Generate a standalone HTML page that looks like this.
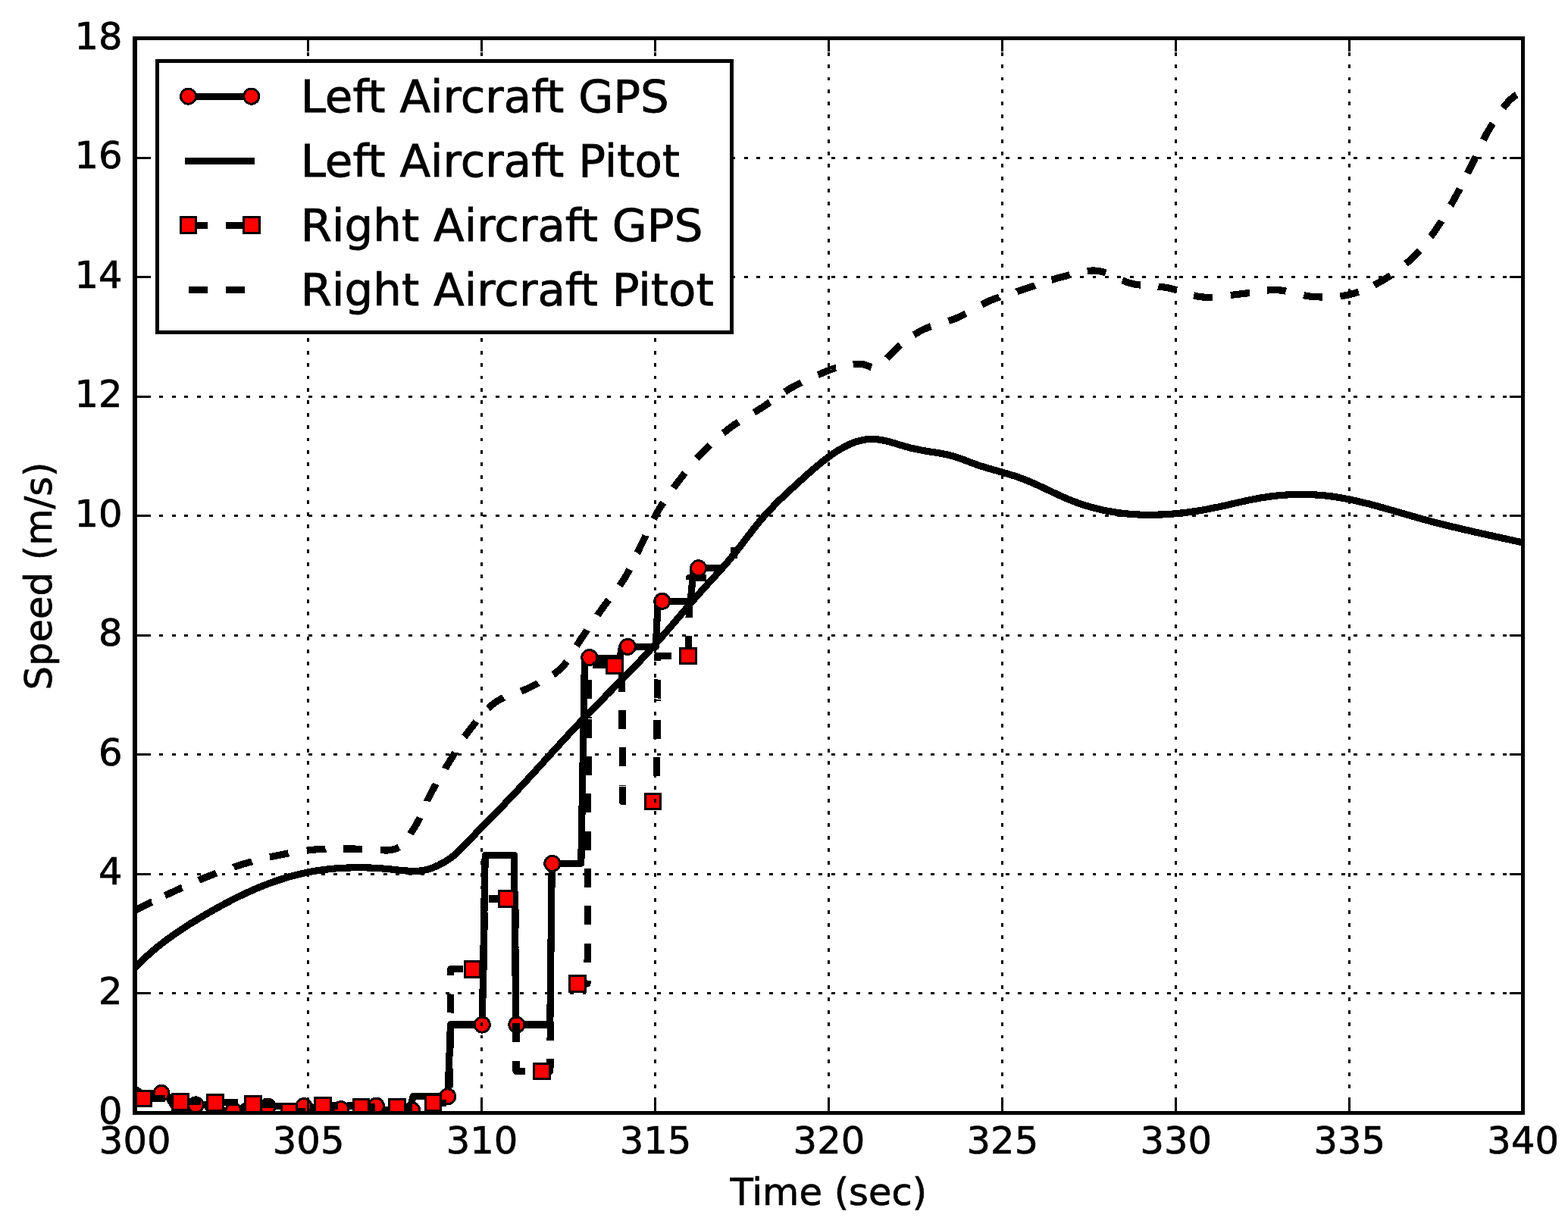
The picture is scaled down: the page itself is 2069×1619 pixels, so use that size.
<!DOCTYPE html>
<html lang="en"><head><meta charset="utf-8"><title>Aircraft speed plot</title>
<style>html,body{margin:0;padding:0;background:#fff;}body{width:2069px;height:1619px;overflow:hidden;}svg{display:block;}text{font-family:"DejaVu Sans","Liberation Sans",sans-serif;fill:#000;}</style>
</head><body>
<svg width="2069" height="1619" viewBox="0 0 2069 1619" shape-rendering="crispEdges">
<rect x="0" y="0" width="2069" height="1619" fill="#fff"/>
<defs><clipPath id="ax"><rect x="178.00" y="50.50" width="1831.50" height="1418.00"/></clipPath></defs>
<g clip-path="url(#ax)"><g fill="none" stroke="#000" stroke-width="9.2" stroke-linejoin="round" stroke-linecap="square">
<path d="M178.0 1437.0 L186.0 1442.2 L219.0 1442.2 L228.0 1457.7 L272.0 1457.7 L277.0 1465.3 L318.0 1465.3 L322.0 1459.8 L364.0 1459.8 L368.0 1459.4 L409.0 1459.4 L413.0 1463.4 L455.0 1463.4 L459.0 1459.0 L501.0 1459.0 L505.0 1464.6 L541.0 1464.6 L545.0 1446.6 L590.8 1446.6 L594.6 1351.9 L636.3 1351.9 L640.2 1128.4 L678.4 1128.4 L680.8 1351.9 L725.8 1351.9 L728.3 1139.2 L766.8 1139.2 L771.5 868.4 L818.0 868.4 L820.5 853.2 L865.3 853.2 L868.2 793.1 L911.2 793.1 L915.2 749.5 L948.0 749.5"/>
<path d="M968.5 737.0 L968.5 722.0" stroke-linecap="butt"/>
</g>
<g fill="#f00" stroke="#000" stroke-width="2.9">
<circle cx="213.0" cy="1442.4" r="10.05"/>
<circle cx="258.3" cy="1457.9" r="10.05"/>
<circle cx="307.9" cy="1465.5" r="10.05"/>
<circle cx="353.1" cy="1460.0" r="10.05"/>
<circle cx="400.9" cy="1459.6" r="10.05"/>
<circle cx="449.9" cy="1463.6" r="10.05"/>
<circle cx="496.4" cy="1459.2" r="10.05"/>
<circle cx="543.6" cy="1464.8" r="10.05"/>
<circle cx="590.7" cy="1446.8" r="10.05"/>
<circle cx="636.3" cy="1352.1" r="10.05"/>
<circle cx="681.8" cy="1352.1" r="10.05"/>
<circle cx="728.8" cy="1139.4" r="10.05"/>
<circle cx="777.8" cy="867.6" r="10.05"/>
<circle cx="828.3" cy="853.4" r="10.05"/>
<circle cx="873.8" cy="793.3" r="10.05"/>
<circle cx="921.6" cy="749.7" r="10.05"/>
</g>
<path d="M178.0 1276.7 L181.0 1273.7 L184.0 1270.7 L187.0 1267.8 L190.0 1265.0 L193.0 1262.3 L196.0 1259.6 L199.0 1256.9 L202.0 1254.3 L205.0 1251.8 L208.0 1249.4 L211.0 1247.0 L214.0 1244.6 L217.0 1242.3 L220.0 1240.0 L223.0 1237.8 L226.0 1235.7 L229.0 1233.5 L232.0 1231.5 L235.0 1229.4 L238.0 1227.4 L241.0 1225.4 L244.0 1223.4 L247.0 1221.5 L250.0 1219.6 L253.0 1217.7 L256.0 1215.9 L259.0 1214.1 L262.0 1212.2 L265.0 1210.4 L268.0 1208.7 L271.0 1206.9 L274.0 1205.1 L277.0 1203.4 L280.0 1201.7 L283.0 1200.0 L286.0 1198.3 L289.0 1196.7 L292.0 1195.0 L295.0 1193.4 L298.0 1191.8 L301.0 1190.2 L304.0 1188.6 L307.0 1187.1 L310.0 1185.6 L313.0 1184.1 L316.0 1182.6 L319.0 1181.2 L322.0 1179.7 L325.0 1178.3 L328.0 1177.0 L331.0 1175.6 L334.0 1174.3 L337.0 1173.0 L340.0 1171.7 L343.0 1170.4 L346.0 1169.2 L349.0 1168.0 L352.0 1166.9 L355.0 1165.7 L358.0 1164.6 L361.0 1163.5 L364.0 1162.5 L367.0 1161.5 L370.0 1160.5 L373.0 1159.5 L376.0 1158.6 L379.0 1157.7 L382.0 1156.8 L385.0 1156.0 L388.0 1155.2 L391.0 1154.4 L394.0 1153.7 L397.0 1153.0 L400.0 1152.3 L403.0 1151.7 L406.0 1151.1 L409.0 1150.5 L412.0 1149.9 L415.0 1149.4 L418.0 1148.9 L421.0 1148.5 L424.0 1148.0 L427.0 1147.6 L430.0 1147.2 L433.0 1146.9 L436.0 1146.6 L439.0 1146.3 L442.0 1146.0 L445.0 1145.8 L448.0 1145.6 L451.0 1145.4 L454.0 1145.2 L457.0 1145.1 L460.0 1145.0 L463.0 1144.9 L466.0 1144.8 L469.0 1144.8 L472.0 1144.7 L475.0 1144.8 L478.0 1144.8 L481.0 1144.8 L484.0 1144.9 L487.0 1145.0 L490.0 1145.1 L493.0 1145.3 L496.0 1145.4 L499.0 1145.6 L502.0 1145.8 L505.0 1146.0 L508.0 1146.3 L511.0 1146.5 L514.0 1146.8 L517.0 1147.1 L520.0 1147.4 L523.0 1147.7 L526.0 1148.1 L529.0 1148.4 L532.0 1148.7 L535.0 1148.9 L538.0 1149.1 L541.0 1149.3 L544.0 1149.4 L547.0 1149.4 L550.0 1149.3 L553.0 1149.1 L556.0 1148.8 L559.0 1148.3 L562.0 1147.7 L565.0 1147.0 L568.0 1146.0 L571.0 1144.9 L574.0 1143.7 L577.0 1142.4 L580.0 1140.9 L583.0 1139.3 L586.0 1137.7 L589.0 1135.9 L592.0 1134.0 L595.0 1131.9 L598.0 1129.5 L601.0 1127.0 L604.0 1124.3 L607.0 1121.4 L610.0 1118.4 L613.0 1115.4 L616.0 1112.2 L619.0 1109.0 L622.0 1105.8 L625.0 1102.6 L628.0 1099.5 L631.0 1096.3 L634.0 1093.3 L637.0 1090.2 L640.0 1087.1 L643.0 1084.1 L646.0 1081.0 L649.0 1078.0 L652.0 1074.9 L655.0 1071.8 L658.0 1068.8 L661.0 1065.7 L664.0 1062.6 L667.0 1059.5 L670.0 1056.4 L673.0 1053.2 L676.0 1050.0 L679.0 1046.9 L682.0 1043.7 L685.0 1040.5 L688.0 1037.2 L691.0 1034.0 L694.0 1030.7 L697.0 1027.5 L700.0 1024.2 L703.0 1020.9 L706.0 1017.7 L709.0 1014.4 L712.0 1011.1 L715.0 1007.8 L718.0 1004.5 L721.0 1001.2 L724.0 997.9 L727.0 994.6 L730.0 991.3 L733.0 988.0 L736.0 984.7 L739.0 981.5 L742.0 978.2 L745.0 974.9 L748.0 971.7 L751.0 968.4 L754.0 965.2 L757.0 962.0 L760.0 958.8 L763.0 955.6 L766.0 952.4 L769.0 949.3 L772.0 946.1 L775.0 943.0 L778.0 939.9 L781.0 936.8 L784.0 933.8 L787.0 930.7 L790.0 927.6 L793.0 924.6 L796.0 921.6 L799.0 918.5 L802.0 915.5 L805.0 912.5 L808.0 909.5 L811.0 906.4 L814.0 903.4 L817.0 900.4 L820.0 897.3 L823.0 894.3 L826.0 891.2 L829.0 888.2 L832.0 885.1 L835.0 882.0 L838.0 878.9 L841.0 875.7 L844.0 872.6 L847.0 869.4 L850.0 866.2 L853.0 863.0 L856.0 859.7 L859.0 856.4 L862.0 853.1 L865.0 849.8 L868.0 846.4 L871.0 843.0 L874.0 839.6 L877.0 836.1 L880.0 832.7 L883.0 829.2 L886.0 825.7 L889.0 822.2 L892.0 818.7 L895.0 815.1 L898.0 811.6 L901.0 808.1 L904.0 804.6 L907.0 801.1 L910.0 797.6 L913.0 794.1 L916.0 790.7 L919.0 787.2 L922.0 783.8 L925.0 780.5 L928.0 777.1 L931.0 773.8 L934.0 770.5 L937.0 767.2 L940.0 763.9 L943.0 760.7 L946.0 757.4 L949.0 754.1 L952.0 750.8 L955.0 747.4 L958.0 744.0 L961.0 740.5 L964.0 736.9 L967.0 733.3 L970.0 729.6 L973.0 725.8 L976.0 721.9 L979.0 718.0 L982.0 714.1 L985.0 710.1 L988.0 706.2 L991.0 702.3 L994.0 698.5 L997.0 694.7 L1000.0 690.9 L1003.0 687.3 L1006.0 683.8 L1009.0 680.3 L1012.0 677.0 L1015.0 673.7 L1018.0 670.6 L1021.0 667.5 L1024.0 664.4 L1027.0 661.5 L1030.0 658.5 L1033.0 655.7 L1036.0 652.8 L1039.0 650.0 L1042.0 647.2 L1045.0 644.5 L1048.0 641.7 L1051.0 639.0 L1054.0 636.2 L1057.0 633.5 L1060.0 630.8 L1063.0 628.1 L1066.0 625.4 L1069.0 622.8 L1072.0 620.2 L1075.0 617.6 L1078.0 615.0 L1081.0 612.6 L1084.0 610.1 L1087.0 607.8 L1090.0 605.4 L1093.0 603.2 L1096.0 601.0 L1099.0 598.9 L1102.0 596.9 L1105.0 595.0 L1108.0 593.1 L1111.0 591.4 L1114.0 589.7 L1117.0 588.2 L1120.0 586.8 L1123.0 585.4 L1126.0 584.2 L1129.0 583.1 L1132.0 582.2 L1135.0 581.4 L1138.0 580.7 L1141.0 580.1 L1144.0 579.7 L1147.0 579.5 L1150.0 579.4 L1153.0 579.4 L1156.0 579.6 L1159.0 580.0 L1162.0 580.4 L1165.0 580.9 L1168.0 581.6 L1171.0 582.3 L1174.0 583.1 L1177.0 583.9 L1180.0 584.8 L1183.0 585.6 L1186.0 586.6 L1189.0 587.5 L1192.0 588.4 L1195.0 589.2 L1198.0 590.1 L1201.0 590.9 L1204.0 591.6 L1207.0 592.3 L1210.0 592.9 L1213.0 593.5 L1216.0 594.1 L1219.0 594.6 L1222.0 595.1 L1225.0 595.6 L1228.0 596.1 L1231.0 596.5 L1234.0 597.0 L1237.0 597.5 L1240.0 598.0 L1243.0 598.6 L1246.0 599.2 L1249.0 599.8 L1252.0 600.5 L1255.0 601.2 L1258.0 602.1 L1261.0 603.0 L1264.0 604.0 L1267.0 605.0 L1270.0 606.1 L1273.0 607.2 L1276.0 608.3 L1279.0 609.5 L1282.0 610.6 L1285.0 611.7 L1288.0 612.8 L1291.0 613.9 L1294.0 614.9 L1297.0 615.8 L1300.0 616.8 L1303.0 617.7 L1306.0 618.5 L1309.0 619.4 L1312.0 620.2 L1315.0 621.1 L1318.0 621.9 L1321.0 622.8 L1324.0 623.6 L1327.0 624.5 L1330.0 625.4 L1333.0 626.3 L1336.0 627.2 L1339.0 628.1 L1342.0 629.1 L1345.0 630.2 L1348.0 631.3 L1351.0 632.4 L1354.0 633.6 L1357.0 634.8 L1360.0 636.1 L1363.0 637.4 L1366.0 638.7 L1369.0 640.1 L1372.0 641.5 L1375.0 642.8 L1378.0 644.3 L1381.0 645.7 L1384.0 647.1 L1387.0 648.5 L1390.0 649.9 L1393.0 651.3 L1396.0 652.7 L1399.0 654.1 L1402.0 655.5 L1405.0 656.8 L1408.0 658.1 L1411.0 659.3 L1414.0 660.5 L1417.0 661.7 L1420.0 662.8 L1423.0 663.9 L1426.0 664.9 L1429.0 665.9 L1432.0 666.9 L1435.0 667.8 L1438.0 668.7 L1441.0 669.5 L1444.0 670.3 L1447.0 671.1 L1450.0 671.8 L1453.0 672.5 L1456.0 673.2 L1459.0 673.8 L1462.0 674.4 L1465.0 674.9 L1468.0 675.4 L1471.0 675.9 L1474.0 676.4 L1477.0 676.8 L1480.0 677.1 L1483.0 677.5 L1486.0 677.8 L1489.0 678.1 L1492.0 678.3 L1495.0 678.6 L1498.0 678.8 L1501.0 678.9 L1504.0 679.1 L1507.0 679.2 L1510.0 679.2 L1513.0 679.3 L1516.0 679.3 L1519.0 679.3 L1522.0 679.3 L1525.0 679.2 L1528.0 679.1 L1531.0 679.0 L1534.0 678.9 L1537.0 678.8 L1540.0 678.6 L1543.0 678.4 L1546.0 678.2 L1549.0 677.9 L1552.0 677.6 L1555.0 677.4 L1558.0 677.0 L1561.0 676.7 L1564.0 676.4 L1567.0 676.0 L1570.0 675.6 L1573.0 675.2 L1576.0 674.7 L1579.0 674.3 L1582.0 673.8 L1585.0 673.3 L1588.0 672.8 L1591.0 672.3 L1594.0 671.7 L1597.0 671.1 L1600.0 670.5 L1603.0 669.9 L1606.0 669.3 L1609.0 668.7 L1612.0 668.0 L1615.0 667.4 L1618.0 666.7 L1621.0 666.0 L1624.0 665.3 L1627.0 664.6 L1630.0 663.9 L1633.0 663.3 L1636.0 662.6 L1639.0 661.9 L1642.0 661.2 L1645.0 660.6 L1648.0 659.9 L1651.0 659.3 L1654.0 658.7 L1657.0 658.1 L1660.0 657.6 L1663.0 657.0 L1666.0 656.5 L1669.0 656.1 L1672.0 655.6 L1675.0 655.2 L1678.0 654.8 L1681.0 654.4 L1684.0 654.1 L1687.0 653.8 L1690.0 653.5 L1693.0 653.3 L1696.0 653.1 L1699.0 652.9 L1702.0 652.7 L1705.0 652.6 L1708.0 652.5 L1711.0 652.4 L1714.0 652.4 L1717.0 652.4 L1720.0 652.4 L1723.0 652.4 L1726.0 652.5 L1729.0 652.6 L1732.0 652.7 L1735.0 652.9 L1738.0 653.1 L1741.0 653.3 L1744.0 653.5 L1747.0 653.8 L1750.0 654.1 L1753.0 654.5 L1756.0 654.8 L1759.0 655.2 L1762.0 655.7 L1765.0 656.1 L1768.0 656.6 L1771.0 657.1 L1774.0 657.7 L1777.0 658.3 L1780.0 658.9 L1783.0 659.5 L1786.0 660.1 L1789.0 660.8 L1792.0 661.5 L1795.0 662.2 L1798.0 662.9 L1801.0 663.6 L1804.0 664.4 L1807.0 665.1 L1810.0 665.9 L1813.0 666.7 L1816.0 667.5 L1819.0 668.3 L1822.0 669.2 L1825.0 670.0 L1828.0 670.9 L1831.0 671.7 L1834.0 672.6 L1837.0 673.4 L1840.0 674.3 L1843.0 675.2 L1846.0 676.0 L1849.0 676.9 L1852.0 677.8 L1855.0 678.7 L1858.0 679.5 L1861.0 680.4 L1864.0 681.3 L1867.0 682.1 L1870.0 683.0 L1873.0 683.8 L1876.0 684.6 L1879.0 685.5 L1882.0 686.3 L1885.0 687.1 L1888.0 687.9 L1891.0 688.7 L1894.0 689.4 L1897.0 690.2 L1900.0 691.0 L1903.0 691.7 L1906.0 692.5 L1909.0 693.2 L1912.0 693.9 L1915.0 694.7 L1918.0 695.4 L1921.0 696.1 L1924.0 696.8 L1927.0 697.5 L1930.0 698.2 L1933.0 698.9 L1936.0 699.6 L1939.0 700.3 L1942.0 701.0 L1945.0 701.7 L1948.0 702.4 L1951.0 703.0 L1954.0 703.7 L1957.0 704.4 L1960.0 705.0 L1963.0 705.7 L1966.0 706.4 L1969.0 707.0 L1972.0 707.7 L1975.0 708.4 L1978.0 709.0 L1981.0 709.7 L1984.0 710.4 L1987.0 711.0 L1990.0 711.7 L1993.0 712.3 L1996.0 713.0 L1999.0 713.7 L2002.0 714.3 L2005.0 715.0 L2008.0 715.7 L2009.5 716.0" fill="none" stroke="#000" stroke-width="9.2" stroke-linejoin="round"/>
<g fill="none" stroke="#000" stroke-width="9.2" stroke-linejoin="round">
<path d="M193.0 1449.4 L218.0 1449.4"/>
<path d="M239.5 1453.8 L264.5 1453.8"/>
<path d="M288.6 1454.8 L313.6 1454.8"/>
<path d="M337.0 1456.9 L362.0 1456.9"/>
<path d="M378.1 1466.9 L403.1 1466.9"/>
<path d="M421.2 1459.0 L446.2 1459.0"/>
<path d="M469.8 1460.9 L494.8 1460.9"/>
<path d="M519.1 1460.9 L544.1 1460.9"/>
<path d="M564.2 1455.1 L589.2 1455.1"/>
<path d="M593.6 1435.1 L593.8 1410.1"/>
<path d="M593.9 1385.8 L594.1 1360.8"/>
<path d="M594.2 1336.5 L594.4 1311.5"/>
<path d="M594.5 1287.2 L594.6 1278.6 L611.0 1278.6"/>
<path d="M635.3 1278.6 L636.7 1278.6"/>
<path d="M638.1 1278.6 L638.2 1278.6 L638.5 1253.7"/>
<path d="M638.9 1229.4 L639.2 1204.4"/>
<path d="M645.3 1185.9 L670.3 1185.9"/>
<path d="M680.5 1200.0 L680.6 1225.0"/>
<path d="M680.6 1249.3 L680.6 1250.5"/>
<path d="M680.6 1251.7 L680.7 1276.7"/>
<path d="M680.8 1301.0 L680.8 1326.0"/>
<path d="M680.9 1350.3 L680.9 1375.3"/>
<path d="M681.0 1399.6 L681.0 1413.4 L692.1 1413.4"/>
<path d="M692.1 1413.4 L692.7 1413.4"/>
<path d="M717.0 1413.4 L725.9 1413.4 L726.0 1397.3"/>
<path d="M726.1 1373.0 L726.2 1348.0"/>
<path d="M726.4 1323.7 L726.5 1298.7"/>
<path d="M727.5 1298.0 L729.8 1298.0"/>
<path d="M754.1 1298.0 L775.0 1298.0 L775.0 1293.9"/>
<path d="M775.1 1269.6 L775.2 1244.6"/>
<path d="M775.3 1220.3 L775.4 1195.6"/>
<path d="M775.4 1195.6 L775.4 1195.2"/>
<path d="M775.5 1170.9 L775.5 1145.9"/>
<path d="M775.6 1121.6 L775.7 1096.6"/>
<path d="M775.8 1072.3 L775.9 1047.3"/>
<path d="M776.0 1023.0 L776.1 998.0"/>
<path d="M776.2 973.7 L776.2 948.7"/>
<path d="M776.2 947.6 L776.3 945.9"/>
<path d="M776.3 921.6 L776.4 896.6"/>
<path d="M781.7 877.4 L806.7 877.4"/>
<path d="M820.7 887.7 L820.8 912.7"/>
<path d="M820.9 937.0 L821.0 962.0"/>
<path d="M821.1 986.3 L821.1 1011.3"/>
<path d="M821.2 1035.6 L821.2 1036.6"/>
<path d="M821.2 1037.6 L821.3 1057.4 L826.4 1057.4"/>
<path d="M850.7 1057.4 L866.6 1057.4 L866.6 1048.3"/>
<path d="M866.8 1024.0 L866.9 999.0"/>
<path d="M867.0 974.7 L867.1 949.7"/>
<path d="M867.2 925.4 L867.2 923.4"/>
<path d="M867.2 921.5 L867.4 896.5"/>
<path d="M867.5 872.2 L867.5 865.5 L885.8 865.5"/>
<path d="M908.6 864.0 L908.9 839.0"/>
<path d="M909.1 814.7 L909.4 789.7"/>
<path d="M909.7 765.4 L909.7 762.3 L931.6 762.3"/>
</g>
<g fill="#f00" stroke="#000" stroke-width="3">
<rect x="179.0" y="1439.1" width="20.7" height="20.7"/>
<rect x="227.7" y="1443.4" width="20.7" height="20.7"/>
<rect x="273.6" y="1444.4" width="20.7" height="20.7"/>
<rect x="323.6" y="1446.6" width="20.7" height="20.7"/>
<rect x="371.0" y="1456.6" width="20.7" height="20.7"/>
<rect x="415.4" y="1448.7" width="20.7" height="20.7"/>
<rect x="466.1" y="1450.6" width="20.7" height="20.7"/>
<rect x="513.6" y="1450.6" width="20.7" height="20.7"/>
<rect x="561.1" y="1444.8" width="20.7" height="20.7"/>
<rect x="613.2" y="1268.3" width="20.7" height="20.7"/>
<rect x="658.2" y="1175.6" width="20.7" height="20.7"/>
<rect x="704.6" y="1403.0" width="20.7" height="20.7"/>
<rect x="751.6" y="1287.7" width="20.7" height="20.7"/>
<rect x="800.4" y="868.1" width="20.7" height="20.7"/>
<rect x="851.1" y="1047.1" width="20.7" height="20.7"/>
<rect x="897.4" y="855.1" width="20.7" height="20.7"/>
</g>
<g fill="none" stroke="#000" stroke-width="9.2" stroke-linejoin="round">
<path d="M178.0 1201.4 L178.3 1201.3 L178.5 1201.1 L178.8 1201.0 L179.1 1200.9 L179.3 1200.7 L179.6 1200.6 L179.8 1200.5 L180.1 1200.3 L180.3 1200.2 L180.6 1200.1 L180.8 1199.9 L181.1 1199.8 L181.3 1199.7 L181.6 1199.6 L181.8 1199.4 L182.1 1199.3 L182.3 1199.2 L182.6 1199.1 L182.8 1198.9 L183.1 1198.8 L183.3 1198.7 L183.6 1198.5 L183.8 1198.4 L184.1 1198.3 L184.4 1198.1 L184.6 1198.0 L184.9 1197.9 L185.2 1197.7 L185.5 1197.6 L185.8 1197.4 L186.1 1197.3 L186.4 1197.1 L186.7 1197.0 L187.0 1196.8 L187.3 1196.7 L187.6 1196.5 L188.0 1196.3 L188.3 1196.2 L188.6 1196.0 L189.0 1195.8 L189.7 1195.5 L190.4 1195.1 L191.2 1194.7 L192.0 1194.3 L192.8 1193.9 L193.6 1193.5 L194.5 1193.1 L195.4 1192.6 L196.3 1192.2 L197.2 1191.7 L198.1 1191.3 L199.1 1190.8 L200.1 1190.3 L200.2 1190.3"/>
<path d="M217.7 1181.7 L218.2 1181.5 L219.3 1180.9 L220.4 1180.4 L221.5 1179.9 L222.6 1179.4 L223.7 1178.9 L224.8 1178.4 L225.9 1177.9 L226.9 1177.4 L228.0 1176.9 L229.0 1176.4 L230.1 1175.9 L231.2 1175.4 L232.3 1174.9 L233.4 1174.4 L234.5 1173.9 L235.5 1173.4 L236.6 1172.9 L237.7 1172.4 L238.9 1171.9 L240.0 1171.3 L240.4 1171.2"/>
<path d="M262.2 1161.5 L262.4 1161.4 L263.6 1160.9 L264.7 1160.4 L265.8 1159.9 L267.0 1159.5 L268.1 1159.0 L269.2 1158.5 L270.4 1158.1 L271.5 1157.6 L272.7 1157.2 L273.8 1156.7 L274.9 1156.2 L276.1 1155.8 L277.2 1155.3 L278.4 1154.9 L279.5 1154.5 L280.7 1154.0 L281.8 1153.6 L283.0 1153.1 L284.2 1152.7 L285.3 1152.3 L285.5 1152.2"/>
<path d="M308.5 1144.1 L308.6 1144.0 L309.8 1143.6 L311.0 1143.2 L312.1 1142.9 L313.3 1142.5 L314.5 1142.1 L315.7 1141.7 L316.9 1141.4 L318.0 1141.0 L319.2 1140.7 L320.4 1140.3 L321.6 1139.9 L322.8 1139.6 L323.9 1139.2 L325.1 1138.9 L326.3 1138.6 L327.5 1138.2 L328.7 1137.9 L329.9 1137.5 L331.1 1137.2 L332.2 1136.9 L332.4 1136.8"/>
<path d="M356.0 1130.9 L356.1 1130.9 L357.4 1130.6 L358.6 1130.3 L359.8 1130.1 L361.0 1129.8 L362.2 1129.5 L363.4 1129.3 L364.6 1129.0 L365.8 1128.8 L367.0 1128.5 L368.2 1128.3 L369.4 1128.1 L370.6 1127.8 L371.8 1127.6 L373.0 1127.3 L374.3 1127.1 L375.5 1126.9 L376.7 1126.6 L377.9 1126.4 L379.1 1126.2 L380.3 1126.0 L380.5 1125.9"/>
<path d="M404.7 1122.2 L404.8 1122.2 L406.1 1122.0 L407.3 1121.9 L408.5 1121.7 L409.7 1121.6 L411.0 1121.5 L412.2 1121.4 L413.4 1121.2 L414.6 1121.1 L415.9 1121.0 L417.1 1120.9 L418.3 1120.8 L419.5 1120.7 L420.8 1120.6 L422.0 1120.5 L423.2 1120.5 L424.5 1120.4 L425.7 1120.3 L426.9 1120.3 L428.2 1120.2 L429.4 1120.2 L429.6 1120.1"/>
<path d="M453.3 1119.9 L454.1 1119.9 L455.3 1119.9 L456.5 1119.9 L457.7 1119.9 L458.9 1119.9 L460.1 1119.9 L461.2 1119.9 L462.4 1120.0 L463.5 1120.0 L464.7 1120.0 L465.8 1120.0 L466.8 1120.0 L467.8 1120.0 L468.8 1120.1 L469.7 1120.1 L470.7 1120.1 L471.7 1120.2 L472.7 1120.2 L473.7 1120.2 L474.7 1120.3 L475.7 1120.3 L476.7 1120.4 L477.7 1120.4 L478.3 1120.4"/>
<path d="M502.0 1121.7 L502.2 1121.7 L502.6 1121.7 L503.0 1121.7 L503.3 1121.7 L503.7 1121.7 L504.1 1121.7 L504.4 1121.8 L504.8 1121.8 L505.1 1121.8 L505.4 1121.8 L505.8 1121.8 L506.1 1121.8 L506.4 1121.8 L506.7 1121.8 L507.0 1121.9 L507.3 1121.9 L507.6 1121.9 L507.9 1121.9 L508.2 1121.9 L508.5 1121.9 L508.8 1121.9 L509.1 1121.9 L509.4 1121.9 L509.7 1121.9 L510.0 1121.9 L510.2 1121.9 L510.5 1121.9 L510.8 1121.9 L511.1 1121.9 L511.4 1121.9 L511.6 1121.9 L511.9 1121.9 L512.2 1121.8 L512.5 1121.8 L512.8 1121.8 L513.1 1121.8 L513.3 1121.8 L513.6 1121.7 L513.9 1121.7 L514.2 1121.6 L514.5 1121.6 L514.8 1121.6 L515.1 1121.5 L515.3 1121.5 L515.6 1121.4 L515.9 1121.4 L516.2 1121.4 L516.5 1121.3 L516.7 1121.3 L517.0 1121.2 L517.3 1121.2 L517.6 1121.2 L517.8 1121.1 L518.1 1121.1 L518.4 1121.0 L518.6 1121.0 L518.9 1120.9 L519.2 1120.9 L519.4 1120.8 L519.7 1120.8 L520.0 1120.7 L520.2 1120.7 L520.5 1120.6 L520.8 1120.5 L521.1 1120.4 L521.3 1120.3 L521.6 1120.3 L521.9 1120.2 L522.1 1120.1 L522.4 1120.0 L522.7 1119.8 L523.0 1119.7 L523.2 1119.6 L523.5 1119.5 L523.8 1119.3 L524.1 1119.2 L524.4 1119.0 L524.6 1118.8 L524.9 1118.7 L525.2 1118.5 L525.5 1118.3 L526.0 1117.9 L526.2 1117.8"/>
<path d="M541.3 1100.3 L541.5 1099.9 L542.1 1099.1 L542.6 1098.2 L543.2 1097.4 L543.8 1096.5 L544.3 1095.7 L544.9 1094.8 L545.4 1094.0 L546.0 1093.1 L546.5 1092.3 L547.1 1091.5 L547.6 1090.6 L548.1 1089.8 L548.7 1088.8 L549.3 1087.9 L549.8 1086.9 L550.4 1085.9 L551.0 1084.8 L551.5 1083.8 L552.1 1082.7 L552.6 1081.7 L553.1 1080.6 L553.7 1079.5 L554.0 1078.8"/>
<path d="M563.8 1056.9 L563.8 1056.8 L564.3 1055.6 L564.8 1054.5 L565.4 1053.4 L565.9 1052.2 L566.4 1051.1 L567.0 1050.0 L567.5 1048.9 L568.1 1047.8 L568.6 1046.7 L569.2 1045.6 L569.8 1044.5 L570.3 1043.5 L570.9 1042.4 L571.5 1041.3 L572.1 1040.3 L572.7 1039.2 L573.3 1038.1 L573.9 1037.1 L574.5 1036.0 L575.1 1035.0 L575.2 1034.7"/>
<path d="M587.3 1014.4 L587.4 1014.1 L588.1 1013.0 L588.7 1012.0 L589.3 1011.0 L590.0 1009.9 L590.6 1008.9 L591.3 1007.9 L591.9 1006.8 L592.5 1005.8 L593.2 1004.7 L593.8 1003.7 L594.4 1002.7 L595.1 1001.6 L595.7 1000.5 L596.4 999.5 L597.0 998.4 L597.6 997.4 L598.3 996.3 L598.9 995.2 L599.5 994.2 L600.2 993.1 L600.2 993.0"/>
<path d="M613.1 972.2 L613.2 972.1 L613.9 971.0 L614.6 970.0 L615.3 969.0 L616.0 968.0 L616.7 967.0 L617.4 966.0 L618.2 965.0 L618.9 964.0 L619.7 963.1 L620.4 962.1 L621.1 961.1 L621.9 960.2 L622.6 959.2 L623.4 958.3 L624.2 957.3 L624.9 956.3 L625.7 955.4 L626.4 954.4 L627.2 953.4 L628.0 952.5 L628.1 952.3"/>
<path d="M644.0 934.6 L644.4 934.3 L645.3 933.5 L646.2 932.7 L647.1 931.9 L648.0 931.1 L648.9 930.3 L649.9 929.6 L650.8 928.8 L651.8 928.1 L652.7 927.4 L653.7 926.7 L654.7 926.0 L655.7 925.4 L656.7 924.7 L657.8 924.1 L658.8 923.5 L659.9 922.9 L661.0 922.4 L662.1 921.8 L663.2 921.3 L664.3 920.8 L664.6 920.6"/>
<path d="M687.6 912.0 L687.8 911.9 L688.9 911.5 L690.1 911.0 L691.2 910.6 L692.4 910.1 L693.5 909.6 L694.7 909.1 L695.8 908.6 L696.9 908.1 L698.0 907.6 L699.1 907.0 L700.2 906.5 L701.2 905.9 L702.3 905.4 L703.4 904.8 L704.4 904.3 L705.5 903.7 L706.6 903.2 L707.7 902.6 L708.8 902.1 L709.8 901.6 L710.2 901.3"/>
<path d="M729.9 890.1 L730.6 889.7 L731.5 889.0 L732.5 888.3 L733.4 887.6 L734.4 886.9 L735.3 886.1 L736.2 885.4 L737.1 884.6 L738.0 883.9 L738.8 883.1 L739.7 882.3 L740.6 881.5 L741.4 880.6 L742.2 879.8 L743.0 878.9 L743.8 878.0 L744.6 877.1 L745.4 876.1 L746.1 875.2 L746.9 874.2 L747.6 873.3 L747.9 872.9"/>
<path d="M760.8 852.3 L760.8 852.3 L761.5 851.2 L762.1 850.1 L762.8 849.1 L763.4 848.0 L764.1 847.0 L764.8 845.9 L765.4 844.9 L766.1 843.8 L766.8 842.8 L767.5 841.8 L768.2 840.8 L768.9 839.8 L769.6 838.8 L770.3 837.8 L771.0 836.7 L771.7 835.7 L772.4 834.7 L773.1 833.7 L773.8 832.7 L774.5 831.7 L774.6 831.5"/>
<path d="M788.5 811.7 L788.6 811.5 L789.3 810.5 L790.0 809.5 L790.7 808.5 L791.4 807.5 L792.1 806.5 L792.8 805.5 L793.6 804.5 L794.3 803.5 L795.0 802.5 L795.7 801.5 L796.4 800.5 L797.1 799.5 L797.9 798.5 L798.6 797.6 L799.3 796.6 L800.0 795.6 L800.8 794.6 L801.5 793.7 L802.3 792.7 L803.0 791.7 L803.2 791.5"/>
<path d="M817.6 772.7 L817.8 772.4 L818.5 771.4 L819.2 770.4 L819.9 769.4 L820.5 768.4 L821.2 767.4 L821.9 766.4 L822.6 765.4 L823.2 764.4 L823.9 763.3 L824.5 762.3 L825.1 761.3 L825.8 760.2 L826.4 759.1 L827.0 758.1 L827.6 757.0 L828.2 755.9 L828.8 754.8 L829.3 753.8 L829.9 752.7 L830.5 751.6 L830.6 751.4"/>
<path d="M841.1 729.4 L841.2 729.3 L841.7 728.1 L842.2 727.0 L842.7 725.9 L843.3 724.8 L843.8 723.7 L844.3 722.5 L844.9 721.4 L845.4 720.3 L846.0 719.2 L846.5 718.1 L847.1 717.0 L847.6 715.9 L848.1 714.8 L848.7 713.6 L849.2 712.5 L849.8 711.4 L850.3 710.3 L850.8 709.2 L851.4 708.0 L851.9 706.9 L851.9 706.8"/>
<path d="M862.6 684.7 L862.7 684.5 L863.2 683.4 L863.8 682.3 L864.4 681.2 L865.0 680.1 L865.6 679.1 L866.2 678.0 L866.8 676.9 L867.4 675.8 L868.0 674.8 L868.6 673.7 L869.2 672.7 L869.8 671.6 L870.5 670.6 L871.1 669.5 L871.8 668.5 L872.4 667.5 L873.0 666.5 L873.7 665.4 L874.4 664.4 L875.0 663.4 L875.2 663.1"/>
<path d="M888.7 643.9 L888.9 643.6 L889.6 642.6 L890.4 641.7 L891.1 640.7 L891.8 639.7 L892.5 638.7 L893.3 637.8 L894.0 636.8 L894.7 635.8 L895.5 634.9 L896.2 633.9 L896.9 632.9 L897.7 631.9 L898.4 631.0 L899.2 630.0 L899.9 629.0 L900.7 628.0 L901.5 627.0 L902.2 626.0 L903.0 625.1 L903.7 624.1 L903.8 624.0"/>
<path d="M919.4 605.0 L919.5 604.9 L920.3 603.9 L921.2 603.0 L922.0 602.1 L922.8 601.2 L923.7 600.3 L924.5 599.4 L925.3 598.5 L926.2 597.6 L927.0 596.7 L927.9 595.8 L928.7 594.9 L929.6 594.1 L930.5 593.2 L931.3 592.3 L932.2 591.5 L933.0 590.6 L933.9 589.8 L934.8 588.9 L935.7 588.1 L936.5 587.3 L936.8 587.0"/>
<path d="M954.4 571.5 L954.7 571.3 L955.7 570.5 L956.6 569.7 L957.6 569.0 L958.5 568.2 L959.5 567.5 L960.4 566.7 L961.4 566.0 L962.4 565.3 L963.3 564.5 L964.3 563.8 L965.3 563.1 L966.3 562.4 L967.3 561.6 L968.2 560.9 L969.2 560.2 L970.3 559.6 L971.3 558.9 L972.3 558.2 L973.3 557.5 L974.3 556.9 L974.6 556.7"/>
<path d="M995.1 544.2 L995.3 544.1 L996.3 543.4 L997.4 542.8 L998.4 542.2 L999.5 541.5 L1000.5 540.9 L1001.6 540.2 L1002.6 539.6 L1003.6 538.9 L1004.7 538.3 L1005.7 537.6 L1006.7 536.9 L1007.7 536.3 L1008.8 535.6 L1009.8 534.9 L1010.8 534.2 L1011.8 533.5 L1012.8 532.8 L1013.8 532.1 L1014.8 531.4 L1015.8 530.7 L1016.0 530.6"/>
<path d="M1035.6 517.0 L1035.9 516.8 L1036.9 516.2 L1038.0 515.5 L1039.0 514.9 L1040.0 514.2 L1041.0 513.6 L1042.1 513.0 L1043.1 512.3 L1044.2 511.7 L1045.2 511.1 L1046.3 510.5 L1047.4 509.9 L1048.5 509.3 L1049.6 508.7 L1050.7 508.1 L1051.9 507.5 L1053.1 506.9 L1054.2 506.3 L1055.4 505.7 L1056.7 505.1 L1057.4 504.7"/>
<path d="M1079.3 494.7 L1079.6 494.6 L1080.6 494.1 L1081.7 493.6 L1082.8 493.2 L1083.8 492.7 L1084.8 492.3 L1085.7 491.9 L1086.7 491.5 L1087.6 491.2 L1088.4 490.8 L1089.3 490.4 L1090.0 490.1 L1090.8 489.8 L1091.1 489.7 L1091.5 489.5 L1091.8 489.4 L1092.1 489.2 L1092.4 489.1 L1092.7 489.0 L1093.0 488.9 L1093.3 488.8 L1093.6 488.7 L1093.8 488.5 L1094.1 488.4 L1094.3 488.3 L1094.6 488.2 L1094.8 488.1 L1095.1 488.0 L1095.3 487.9 L1095.6 487.8 L1095.8 487.8 L1096.0 487.7 L1096.2 487.6 L1096.5 487.5 L1096.7 487.4 L1096.9 487.3 L1097.2 487.2 L1097.4 487.2 L1097.6 487.1 L1097.9 487.0 L1098.1 486.9 L1098.3 486.8 L1098.6 486.8 L1098.8 486.7 L1099.1 486.6 L1099.4 486.5 L1099.6 486.4 L1099.9 486.3 L1100.2 486.3 L1100.5 486.2 L1100.8 486.1 L1101.1 486.0 L1101.4 485.9 L1101.9 485.8 L1102.4 485.6 L1102.6 485.6"/>
<path d="M1125.5 480.9 L1125.6 480.9 L1126.0 480.9 L1126.3 480.8 L1126.7 480.8 L1127.0 480.7 L1127.3 480.7 L1127.7 480.7 L1128.0 480.6 L1128.3 480.6 L1128.7 480.6 L1129.0 480.6 L1129.3 480.5 L1129.6 480.5 L1129.9 480.5 L1130.2 480.5 L1130.5 480.4 L1130.9 480.4 L1131.2 480.4 L1131.5 480.4 L1131.8 480.4 L1132.1 480.4 L1132.4 480.4 L1132.6 480.4 L1132.9 480.4 L1133.2 480.4 L1133.5 480.4 L1133.8 480.4 L1134.1 480.4 L1134.4 480.4 L1134.7 480.4 L1135.0 480.4 L1135.3 480.4 L1135.6 480.4 L1135.9 480.5 L1136.2 480.5 L1136.5 480.5 L1136.8 480.5 L1137.1 480.6 L1137.4 480.6 L1137.7 480.7 L1138.0 480.7 L1138.3 480.8 L1138.6 480.8 L1139.0 480.9 L1139.3 480.9 L1139.6 481.0 L1140.0 481.1 L1140.3 481.2 L1140.6 481.3 L1140.9 481.4 L1141.3 481.4 L1141.6 481.5 L1141.9 481.6 L1142.3 481.8 L1142.6 481.9 L1142.9 482.0 L1143.3 482.1 L1143.6 482.2 L1143.9 482.3 L1144.3 482.4 L1144.6 482.6 L1144.9 482.7 L1145.3 482.8 L1145.6 482.9 L1145.9 483.0 L1146.2 483.2 L1146.6 483.3 L1146.9 483.4 L1147.2 483.5 L1147.5 483.6 L1147.8 483.8 L1148.1 483.9 L1148.4 484.0 L1148.7 484.1 L1149.0 484.2 L1149.3 484.3 L1149.6 484.4 L1149.9 484.5 L1149.9 484.5"/>
<path d="M1170.4 472.9 L1170.6 472.7 L1170.8 472.4 L1171.1 472.2 L1171.3 472.0 L1171.5 471.7 L1171.8 471.5 L1172.0 471.2 L1172.2 471.0 L1172.5 470.8 L1172.7 470.5 L1172.9 470.3 L1173.1 470.1 L1173.4 469.8 L1173.6 469.6 L1173.8 469.4 L1174.1 469.2 L1174.3 468.9 L1174.5 468.7 L1174.7 468.5 L1174.9 468.3 L1175.2 468.1 L1175.4 467.8 L1175.6 467.6 L1175.8 467.4 L1176.1 467.2 L1176.3 467.0 L1176.5 466.7 L1176.7 466.5 L1177.0 466.3 L1177.2 466.1 L1177.4 465.9 L1177.6 465.6 L1177.8 465.4 L1178.1 465.2 L1178.3 465.0 L1178.5 464.8 L1178.7 464.5 L1179.0 464.3 L1179.2 464.1 L1179.4 463.9 L1179.6 463.7 L1179.9 463.4 L1180.1 463.2 L1180.3 463.0 L1180.5 462.8 L1180.7 462.6 L1180.9 462.4 L1181.1 462.2 L1181.3 462.0 L1181.5 461.8 L1181.7 461.5 L1181.9 461.3 L1182.1 461.1 L1182.3 460.9 L1182.5 460.7 L1182.7 460.5 L1182.9 460.3 L1183.1 460.1 L1183.3 459.9 L1183.5 459.7 L1183.7 459.5 L1183.9 459.3 L1184.2 459.0 L1184.4 458.8 L1184.6 458.6 L1184.8 458.4 L1185.0 458.2 L1185.3 458.0 L1185.5 457.7 L1185.8 457.5 L1186.0 457.3 L1186.3 457.1 L1186.5 456.8 L1186.8 456.6 L1187.1 456.4 L1187.3 456.1 L1187.6 455.9 L1187.9 455.6 L1188.2 455.4"/>
<path d="M1206.1 441.9 L1206.3 441.8 L1207.0 441.3 L1207.8 440.7 L1208.7 440.2 L1209.5 439.7 L1210.3 439.2 L1211.1 438.7 L1211.9 438.2 L1212.7 437.8 L1213.6 437.3 L1214.4 436.8 L1215.2 436.4 L1216.1 435.9 L1216.9 435.5 L1217.9 435.0 L1218.9 434.5 L1220.0 434.0 L1221.0 433.6 L1222.1 433.1 L1223.2 432.7 L1224.3 432.3 L1225.4 431.8 L1226.5 431.4 L1227.6 431.0 L1228.4 430.7"/>
<path d="M1251.7 423.5 L1252.9 423.1 L1254.1 422.7 L1255.3 422.3 L1256.5 421.9 L1257.6 421.5 L1258.8 421.1 L1260.0 420.6 L1261.1 420.2 L1262.3 419.7 L1263.4 419.2 L1264.5 418.7 L1265.6 418.2 L1266.7 417.7 L1267.8 417.2 L1268.9 416.6 L1270.0 416.1 L1271.1 415.5 L1272.2 415.0 L1273.3 414.4 L1274.4 413.8 L1274.6 413.7"/>
<path d="M1295.6 401.9 L1295.8 401.8 L1296.9 401.3 L1298.0 400.7 L1299.0 400.1 L1300.1 399.6 L1301.2 399.0 L1302.3 398.5 L1303.4 398.0 L1304.6 397.5 L1305.7 397.0 L1306.8 396.5 L1307.9 396.0 L1309.1 395.6 L1310.2 395.1 L1311.4 394.6 L1312.5 394.2 L1313.7 393.8 L1314.8 393.3 L1316.0 392.9 L1317.2 392.5 L1318.4 392.1 L1318.5 392.0"/>
<path d="M1342.0 384.6 L1342.1 384.5 L1343.3 384.2 L1344.5 383.8 L1345.7 383.4 L1346.8 383.1 L1348.0 382.7 L1349.2 382.3 L1350.4 381.9 L1351.6 381.6 L1352.7 381.2 L1353.9 380.8 L1355.0 380.4 L1356.2 380.0 L1357.3 379.6 L1358.5 379.3 L1359.6 378.9 L1360.8 378.5 L1361.9 378.1 L1363.0 377.7 L1364.2 377.3 L1365.3 376.9 L1365.7 376.7"/>
<path d="M1387.5 369.3 L1388.0 369.2 L1389.1 368.8 L1390.3 368.5 L1391.4 368.1 L1392.6 367.8 L1393.7 367.5 L1394.9 367.1 L1396.0 366.8 L1397.2 366.5 L1398.3 366.2 L1399.5 365.9 L1400.7 365.6 L1401.8 365.3 L1403.0 365.0 L1404.2 364.7 L1405.4 364.3 L1406.6 364.0 L1407.8 363.7 L1409.0 363.3 L1410.2 363.0 L1411.3 362.7 L1411.6 362.6"/>
<path d="M1434.7 357.5 L1435.4 357.4 L1436.6 357.3 L1437.8 357.2 L1439.0 357.1 L1440.1 357.1 L1441.3 357.0 L1442.5 357.0 L1443.7 357.0 L1444.9 357.1 L1446.0 357.1 L1447.2 357.2 L1448.4 357.3 L1449.5 357.5 L1450.7 357.7 L1451.8 357.9 L1453.0 358.2 L1454.1 358.4 L1455.3 358.8 L1456.4 359.1 L1457.5 359.5 L1458.7 359.9 L1459.3 360.1"/>
<path d="M1480.9 369.9 L1481.2 370.0 L1482.3 370.5 L1483.5 370.9 L1484.6 371.4 L1485.8 371.8 L1486.9 372.3 L1488.1 372.7 L1489.2 373.0 L1490.4 373.4 L1491.5 373.7 L1492.7 374.0 L1493.9 374.3 L1495.0 374.5 L1496.2 374.8 L1497.4 375.0 L1498.6 375.2 L1499.8 375.4 L1500.9 375.6 L1502.1 375.8 L1503.3 375.9 L1504.5 376.1 L1505.0 376.1"/>
<path d="M1528.2 378.1 L1528.6 378.2 L1529.9 378.3 L1531.1 378.4 L1532.3 378.5 L1533.5 378.7 L1534.7 378.8 L1535.8 379.0 L1537.0 379.2 L1538.2 379.4 L1539.4 379.6 L1540.6 379.8 L1541.8 380.0 L1543.0 380.3 L1544.1 380.6 L1545.3 380.8 L1546.5 381.1 L1547.7 381.4 L1548.8 381.8 L1550.0 382.1 L1551.2 382.4 L1552.3 382.8 L1552.7 382.9"/>
<path d="M1575.1 389.8 L1575.6 389.9 L1576.8 390.2 L1578.0 390.5 L1579.1 390.7 L1580.3 391.0 L1581.5 391.2 L1582.7 391.4 L1583.8 391.6 L1585.0 391.7 L1586.2 391.9 L1587.4 392.0 L1588.6 392.1 L1589.8 392.2 L1591.0 392.2 L1592.2 392.3 L1593.4 392.3 L1594.6 392.3 L1595.8 392.3 L1597.0 392.3 L1598.2 392.2 L1599.5 392.2 L1599.9 392.2"/>
<path d="M1623.7 389.5 L1623.9 389.5 L1625.1 389.3 L1626.3 389.2 L1627.6 389.0 L1628.8 388.8 L1630.0 388.7 L1631.2 388.5 L1632.5 388.4 L1633.7 388.3 L1634.9 388.1 L1636.1 388.0 L1637.3 387.9 L1638.5 387.7 L1639.7 387.6 L1641.0 387.5 L1642.2 387.3 L1643.4 387.1 L1644.6 387.0 L1645.8 386.8 L1647.0 386.6 L1648.2 386.4 L1648.5 386.4"/>
<path d="M1672.0 383.0 L1672.4 383.0 L1673.6 382.9 L1674.8 382.8 L1676.1 382.7 L1677.3 382.7 L1678.5 382.6 L1679.7 382.6 L1680.9 382.6 L1682.1 382.6 L1683.3 382.6 L1684.5 382.6 L1685.7 382.7 L1686.9 382.7 L1688.1 382.8 L1689.3 383.0 L1690.6 383.1 L1691.8 383.3 L1693.0 383.5 L1694.2 383.7 L1695.4 383.9 L1696.6 384.1 L1696.9 384.2"/>
<path d="M1720.4 389.7 L1720.7 389.8 L1721.9 390.0 L1723.1 390.3 L1724.3 390.5 L1725.5 390.7 L1726.8 390.9 L1728.0 391.0 L1729.2 391.2 L1730.4 391.3 L1731.6 391.4 L1732.8 391.5 L1734.0 391.6 L1735.2 391.6 L1736.4 391.7 L1737.6 391.8 L1738.8 391.8 L1740.0 391.8 L1741.2 391.9 L1742.4 391.9 L1743.6 391.9 L1744.9 392.0 L1745.3 392.0"/>
<path d="M1768.4 390.8 L1769.0 390.7 L1770.2 390.5 L1771.4 390.4 L1772.6 390.2 L1773.7 390.0 L1774.9 389.8 L1776.1 389.6 L1777.2 389.4 L1778.4 389.1 L1779.6 388.9 L1780.7 388.6 L1781.8 388.3 L1783.0 388.0 L1784.1 387.7 L1785.2 387.4 L1786.4 387.1 L1787.5 386.8 L1788.6 386.4 L1789.7 386.1 L1790.8 385.7 L1792.0 385.3 L1792.7 385.1"/>
<path d="M1813.2 376.1 L1813.7 375.8 L1814.8 375.3 L1815.9 374.7 L1816.9 374.2 L1818.0 373.6 L1819.0 373.0 L1820.1 372.5 L1821.1 371.9 L1822.1 371.3 L1823.2 370.7 L1824.2 370.1 L1825.3 369.5 L1826.3 368.8 L1827.4 368.2 L1828.4 367.6 L1829.5 366.9 L1830.6 366.2 L1831.6 365.6 L1832.7 364.9 L1833.7 364.2 L1834.8 363.5 L1834.8 363.5"/>
<path d="M1855.0 348.1 L1856.0 347.3 L1856.9 346.5 L1857.9 345.6 L1858.8 344.8 L1859.7 344.0 L1860.7 343.1 L1861.6 342.3 L1862.5 341.4 L1863.4 340.6 L1864.3 339.7 L1865.2 338.9 L1866.0 338.0 L1866.9 337.1 L1867.8 336.3 L1868.6 335.4 L1869.5 334.5 L1870.3 333.6 L1871.1 332.7 L1871.9 331.8 L1872.8 330.9 L1873.0 330.7"/>
<path d="M1887.9 312.1 L1888.1 311.9 L1888.8 310.9 L1889.5 309.9 L1890.2 308.9 L1891.0 308.0 L1891.7 307.0 L1892.4 306.0 L1893.1 305.0 L1893.8 304.0 L1894.5 303.0 L1895.2 302.0 L1895.9 301.0 L1896.6 300.0 L1897.3 299.0 L1898.0 298.0 L1898.6 297.0 L1899.3 296.0 L1900.0 294.9 L1900.6 293.9 L1901.3 292.9 L1902.0 291.8 L1902.1 291.6"/>
<path d="M1914.2 271.0 L1914.4 270.8 L1915.0 269.7 L1915.6 268.6 L1916.2 267.6 L1916.8 266.5 L1917.4 265.4 L1917.9 264.4 L1918.5 263.3 L1919.1 262.2 L1919.7 261.2 L1920.3 260.1 L1920.9 259.0 L1921.5 258.0 L1922.0 256.9 L1922.6 255.9 L1923.2 254.8 L1923.7 253.8 L1924.3 252.7 L1924.8 251.7 L1925.4 250.6 L1926.0 249.6 L1926.2 249.1"/>
<path d="M1936.5 228.7 L1936.7 228.2 L1937.2 227.2 L1937.8 226.1 L1938.3 225.0 L1938.8 224.0 L1939.3 222.9 L1939.9 221.8 L1940.4 220.7 L1940.9 219.7 L1941.5 218.6 L1942.0 217.5 L1942.5 216.4 L1943.1 215.3 L1943.6 214.2 L1944.1 213.1 L1944.6 212.0 L1945.2 210.9 L1945.7 209.8 L1946.2 208.7 L1946.7 207.6 L1947.2 206.5 L1947.3 206.2"/>
<path d="M1957.4 184.5 L1957.5 184.3 L1958.1 183.2 L1958.6 182.1 L1959.2 181.0 L1959.7 179.9 L1960.3 178.8 L1960.9 177.8 L1961.5 176.7 L1962.1 175.6 L1962.7 174.6 L1963.3 173.5 L1963.9 172.4 L1964.6 171.4 L1965.2 170.3 L1965.9 169.2 L1966.5 168.1 L1967.2 167.0 L1967.9 165.9 L1968.5 164.8 L1969.2 163.6 L1969.7 162.8"/>
<path d="M1983.5 142.5 L1983.7 142.2 L1984.4 141.2 L1985.1 140.3 L1985.9 139.4 L1986.6 138.5 L1987.3 137.6 L1988.0 136.8 L1988.7 135.9 L1989.4 135.1 L1990.1 134.4 L1990.8 133.6 L1991.5 132.9 L1992.0 132.4 L1992.4 132.0 L1992.9 131.5 L1993.3 131.1 L1993.8 130.7 L1994.2 130.3 L1994.7 129.9 L1995.2 129.5 L1995.6 129.1 L1996.1 128.8 L1996.5 128.4 L1997.0 128.1 L1997.4 127.7 L1997.9 127.4 L1998.3 127.1 L1998.8 126.7 L1999.2 126.4 L1999.7 126.1 L2000.1 125.8 L2000.6 125.5 L2001.0 125.2 L2001.2 125.1"/>
</g></g>
<g stroke="#000" stroke-width="3.00" stroke-dasharray="4.9 11.515" fill="none">
<line x1="406.5" y1="1468.90" x2="406.5" y2="50.50"/>
<line x1="635.5" y1="1468.90" x2="635.5" y2="50.50"/>
<line x1="864.5" y1="1468.90" x2="864.5" y2="50.50"/>
<line x1="1093.5" y1="1468.90" x2="1093.5" y2="50.50"/>
<line x1="1322.5" y1="1468.90" x2="1322.5" y2="50.50"/>
<line x1="1551.5" y1="1468.90" x2="1551.5" y2="50.50"/>
<line x1="1780.5" y1="1468.90" x2="1780.5" y2="50.50"/>
<line x1="177.60" y1="1310.5" x2="2009.50" y2="1310.5"/>
<line x1="177.60" y1="1153.5" x2="2009.50" y2="1153.5"/>
<line x1="177.60" y1="995.5" x2="2009.50" y2="995.5"/>
<line x1="177.60" y1="838.5" x2="2009.50" y2="838.5"/>
<line x1="177.60" y1="680.5" x2="2009.50" y2="680.5"/>
<line x1="177.60" y1="523.5" x2="2009.50" y2="523.5"/>
<line x1="177.60" y1="365.5" x2="2009.50" y2="365.5"/>
<line x1="177.60" y1="208.5" x2="2009.50" y2="208.5"/>
</g>
<g stroke="#000" stroke-width="3" fill="none">
<line x1="178.5" y1="1468.50" x2="178.5" y2="1451.00"/>
<line x1="178.5" y1="50.50" x2="178.5" y2="68.00"/>
<line x1="406.5" y1="1468.50" x2="406.5" y2="1451.00"/>
<line x1="406.5" y1="50.50" x2="406.5" y2="68.00"/>
<line x1="635.5" y1="1468.50" x2="635.5" y2="1451.00"/>
<line x1="635.5" y1="50.50" x2="635.5" y2="68.00"/>
<line x1="864.5" y1="1468.50" x2="864.5" y2="1451.00"/>
<line x1="864.5" y1="50.50" x2="864.5" y2="68.00"/>
<line x1="1093.5" y1="1468.50" x2="1093.5" y2="1451.00"/>
<line x1="1093.5" y1="50.50" x2="1093.5" y2="68.00"/>
<line x1="1322.5" y1="1468.50" x2="1322.5" y2="1451.00"/>
<line x1="1322.5" y1="50.50" x2="1322.5" y2="68.00"/>
<line x1="1551.5" y1="1468.50" x2="1551.5" y2="1451.00"/>
<line x1="1551.5" y1="50.50" x2="1551.5" y2="68.00"/>
<line x1="1780.5" y1="1468.50" x2="1780.5" y2="1451.00"/>
<line x1="1780.5" y1="50.50" x2="1780.5" y2="68.00"/>
<line x1="2009.5" y1="1468.50" x2="2009.5" y2="1451.00"/>
<line x1="2009.5" y1="50.50" x2="2009.5" y2="68.00"/>
<line x1="178.00" y1="1468.5" x2="195.50" y2="1468.5"/>
<line x1="2009.50" y1="1468.5" x2="1992.00" y2="1468.5"/>
<line x1="178.00" y1="1310.5" x2="195.50" y2="1310.5"/>
<line x1="2009.50" y1="1310.5" x2="1992.00" y2="1310.5"/>
<line x1="178.00" y1="1153.5" x2="195.50" y2="1153.5"/>
<line x1="2009.50" y1="1153.5" x2="1992.00" y2="1153.5"/>
<line x1="178.00" y1="995.5" x2="195.50" y2="995.5"/>
<line x1="2009.50" y1="995.5" x2="1992.00" y2="995.5"/>
<line x1="178.00" y1="838.5" x2="195.50" y2="838.5"/>
<line x1="2009.50" y1="838.5" x2="1992.00" y2="838.5"/>
<line x1="178.00" y1="680.5" x2="195.50" y2="680.5"/>
<line x1="2009.50" y1="680.5" x2="1992.00" y2="680.5"/>
<line x1="178.00" y1="523.5" x2="195.50" y2="523.5"/>
<line x1="2009.50" y1="523.5" x2="1992.00" y2="523.5"/>
<line x1="178.00" y1="365.5" x2="195.50" y2="365.5"/>
<line x1="2009.50" y1="365.5" x2="1992.00" y2="365.5"/>
<line x1="178.00" y1="208.5" x2="195.50" y2="208.5"/>
<line x1="2009.50" y1="208.5" x2="1992.00" y2="208.5"/>
<line x1="178.00" y1="50.5" x2="195.50" y2="50.5"/>
<line x1="2009.50" y1="50.5" x2="1992.00" y2="50.5"/>
</g>
<g fill="#000">
<rect x="175" y="48" width="6" height="1423"/>
<rect x="2007" y="48" width="5" height="1423"/>
<rect x="175" y="48" width="1837" height="5"/>
<rect x="175" y="1466" width="1837" height="5"/>
</g>
<g font-size="49.6px" stroke="#000" stroke-width="0.7">
<text x="178.20" y="1522.3" text-anchor="middle">300</text>
<text x="407.14" y="1522.3" text-anchor="middle">305</text>
<text x="636.08" y="1522.3" text-anchor="middle">310</text>
<text x="865.01" y="1522.3" text-anchor="middle">315</text>
<text x="1093.95" y="1522.3" text-anchor="middle">320</text>
<text x="1322.89" y="1522.3" text-anchor="middle">325</text>
<text x="1551.83" y="1522.3" text-anchor="middle">330</text>
<text x="1780.76" y="1522.3" text-anchor="middle">335</text>
<text x="2009.70" y="1522.3" text-anchor="middle">340</text>
<text x="161.6" y="1482.50" text-anchor="end">0</text>
<text x="161.6" y="1324.94" text-anchor="end">2</text>
<text x="161.6" y="1167.39" text-anchor="end">4</text>
<text x="161.6" y="1009.83" text-anchor="end">6</text>
<text x="161.6" y="852.28" text-anchor="end">8</text>
<text x="161.6" y="694.72" text-anchor="end">10</text>
<text x="161.6" y="537.17" text-anchor="end">12</text>
<text x="161.6" y="379.61" text-anchor="end">14</text>
<text x="161.6" y="222.06" text-anchor="end">16</text>
<text x="161.6" y="64.50" text-anchor="end">18</text>
<text x="1093.3" y="1590.1" text-anchor="middle">Time (sec)</text>
<text transform="translate(67.6 760.0) rotate(-90)" text-anchor="middle">Speed (m/s)</text>
</g>
<rect x="207.5" y="80.5" width="758" height="358" fill="#fff" stroke="#000" stroke-width="5"/>
<g stroke="#000" stroke-width="9.2" fill="none">
<line x1="248.50" y1="127.20" x2="331.70" y2="127.20" stroke-linecap="square"/>
<line x1="248.50" y1="212.20" x2="331.70" y2="212.20" stroke-linecap="square"/>
<line x1="248.50" y1="297.20" x2="331.70" y2="297.20" stroke-dasharray="25 24.3"/>
<line x1="248.50" y1="382.20" x2="331.70" y2="382.20" stroke-dasharray="25 24.3"/>
</g>
<g fill="#f00" stroke="#000" stroke-width="2.9">
<circle cx="248.50" cy="127.20" r="10.05"/>
<rect x="238.15" y="286.85" width="20.7" height="20.7"/>
<circle cx="331.70" cy="127.20" r="10.05"/>
<rect x="321.35" y="286.85" width="20.7" height="20.7"/>
</g>
<g font-size="59.4px" stroke="#000" stroke-width="0.8">
<text x="396.8" y="147.50">Left Aircraft GPS</text>
<text x="396.8" y="232.50">Left Aircraft Pitot</text>
<text x="396.8" y="317.50">Right Aircraft GPS</text>
<text x="396.8" y="402.50">Right Aircraft Pitot</text>
</g>
</svg></body></html>
